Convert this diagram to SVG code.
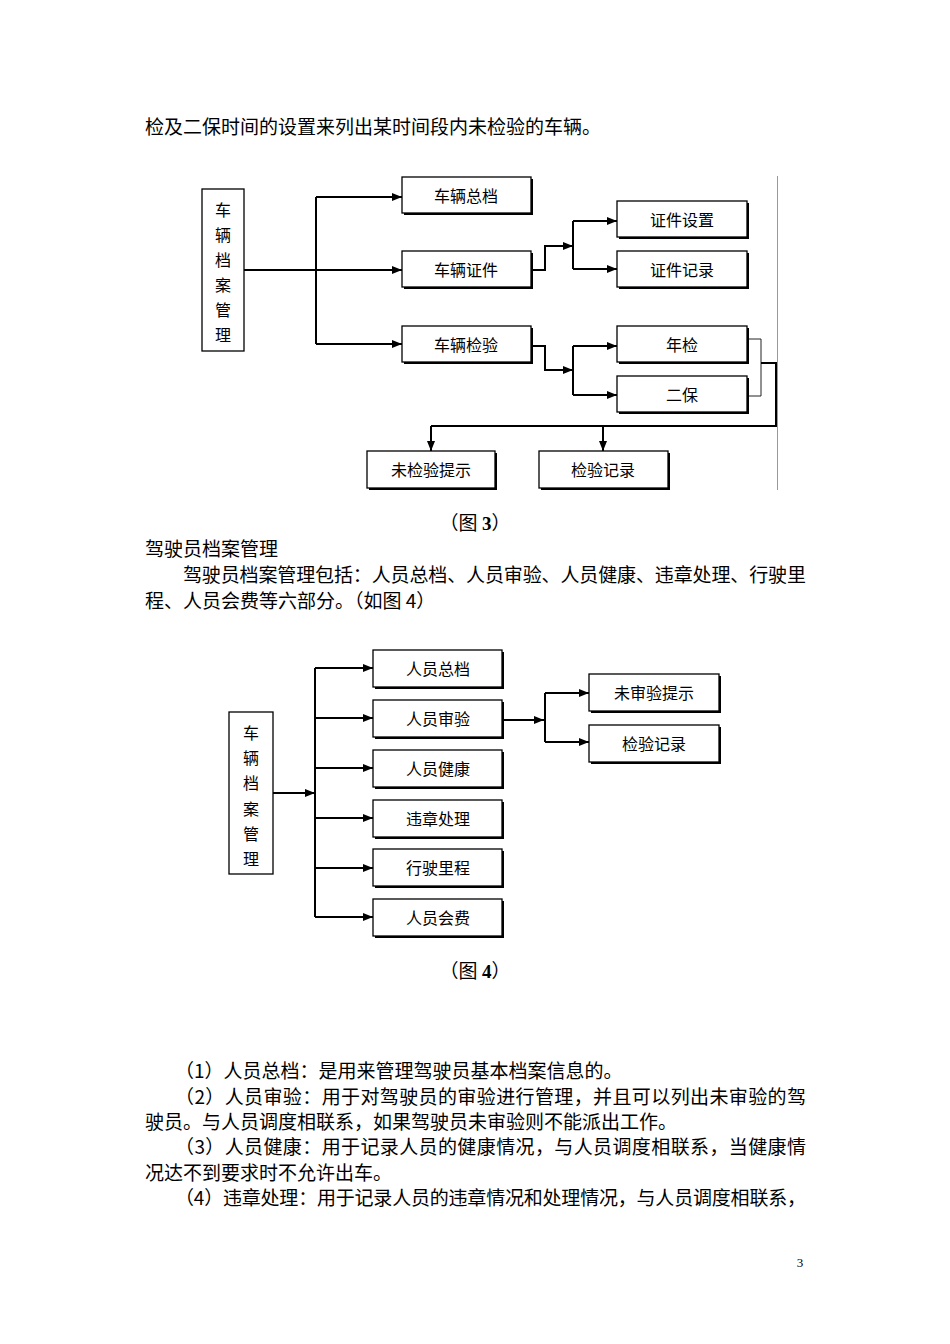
<svg xmlns="http://www.w3.org/2000/svg" width="950" height="1344" viewBox="0 0 950 1344">
<style>
.t{font-family:"Noto Sans CJK SC","Liberation Serif",serif;font-size:19px;fill:#000}
.l{font-family:"Noto Sans CJK SC","Liberation Sans",sans-serif;font-size:16px;fill:#000;text-anchor:middle;dominant-baseline:central}
.c{fill:none;stroke:#000;stroke-width:2}
.thin{fill:none;stroke:#222;stroke-width:1}
.bx{fill:#fff;stroke:#000;stroke-width:1.3}
.sh{fill:#000}
</style>
<defs>
<marker id="a" viewBox="0 0 10 8" refX="10" refY="4" markerWidth="10" markerHeight="8" markerUnits="userSpaceOnUse" orient="auto"><path d="M0,0 L10,4 L0,8 Z" fill="#000"/></marker>
</defs>
<rect width="950" height="1344" fill="#fff"/>

<text class="t" x="145" y="134">检及二保时间的设置来列出某时间段内未检验的车辆。</text>

<!-- Figure 3 -->
<line x1="777.5" y1="176" x2="777.5" y2="490" stroke="#999" stroke-width="1"/>
<g id="connectors3">
<path class="c" d="M244,270 H402" marker-end="url(#a)"/>
<path class="c" d="M316,197 V344"/>
<path class="c" d="M316,197 H402" marker-end="url(#a)"/>
<path class="c" d="M316,344 H402" marker-end="url(#a)"/>
<path class="c" d="M531,270 H545 V246 H573" marker-end="url(#a)"/>
<path class="c" d="M573,221 V269"/>
<path class="c" d="M573,221 H617" marker-end="url(#a)"/>
<path class="c" d="M573,269 H617" marker-end="url(#a)"/>
<path class="c" d="M531,346 H545 V370 H573" marker-end="url(#a)"/>
<path class="c" d="M573,346 V395"/>
<path class="c" d="M573,346 H617" marker-end="url(#a)"/>
<path class="c" d="M573,395 H617" marker-end="url(#a)"/>
<path class="thin" d="M748,339 H761 V396 H748"/>
<path class="c" d="M761,363 H776 V426 H431"/>
<path class="c" d="M431,426 V451" marker-end="url(#a)"/>
<path class="c" d="M603,426 V451" marker-end="url(#a)"/>
</g>
<g id="n3-root"><rect class="bx" x="202" y="189" width="42" height="162"/>
<text class="l" x="223" y="209">车</text><text class="l" x="223" y="234">辆</text><text class="l" x="223" y="259">档</text><text class="l" x="223" y="284">案</text><text class="l" x="223" y="309">管</text><text class="l" x="223" y="334">理</text></g>
<g id="n3-zongdang"><rect class="sh" x="404" y="179" width="129" height="36"/><rect class="bx" x="402" y="177" width="129" height="36"/><text class="l" x="466" y="195">车辆总档</text></g>
<g id="n3-zhengjian"><rect class="sh" x="404" y="253" width="129" height="36"/><rect class="bx" x="402" y="251" width="129" height="36"/><text class="l" x="466" y="269">车辆证件</text></g>
<g id="n3-jianyan"><rect class="sh" x="404" y="328" width="129" height="36"/><rect class="bx" x="402" y="326" width="129" height="36"/><text class="l" x="466" y="344">车辆检验</text></g>
<g id="n3-shezhi"><rect class="sh" x="619" y="203" width="130" height="36"/><rect class="bx" x="617" y="201" width="130" height="36"/><text class="l" x="682" y="219">证件设置</text></g>
<g id="n3-jilu"><rect class="sh" x="619" y="253" width="130" height="36"/><rect class="bx" x="617" y="251" width="130" height="36"/><text class="l" x="682" y="269">证件记录</text></g>
<g id="n3-nianjian"><rect class="sh" x="619" y="328" width="130" height="36"/><rect class="bx" x="617" y="326" width="130" height="36"/><text class="l" x="682" y="344">年检</text></g>
<g id="n3-erbao"><rect class="sh" x="619" y="378" width="130" height="36"/><rect class="bx" x="617" y="376" width="130" height="36"/><text class="l" x="682" y="394">二保</text></g>
<g id="n3-weijian"><rect class="sh" x="369" y="453" width="128" height="37"/><rect class="bx" x="367" y="451" width="128" height="37"/><text class="l" x="431" y="469">未检验提示</text></g>
<g id="n3-jyjilu"><rect class="sh" x="541" y="453" width="129" height="37"/><rect class="bx" x="539" y="451" width="129" height="37"/><text class="l" x="603" y="469">检验记录</text></g>

<text class="t" x="475" y="530" text-anchor="middle">（图 <tspan font-family="Liberation Serif" font-weight="bold">3</tspan>）</text>
<text class="t" x="145" y="556">驾驶员档案管理</text>
<text class="t" x="183" y="582" textLength="623" lengthAdjust="spacing">驾驶员档案管理包括：人员总档、人员审验、人员健康、违章处理、行驶里</text>
<text class="t" x="145" y="608">程、人员会费等六部分。（如图 4）</text>

<!-- Figure 4 -->
<g id="connectors4">
<path class="c" d="M273,793 H315" marker-end="url(#a)"/>
<path class="c" d="M315,668 V917"/>
<path class="c" d="M315,668 H373" marker-end="url(#a)"/>
<path class="c" d="M315,718 H373" marker-end="url(#a)"/>
<path class="c" d="M315,768 H373" marker-end="url(#a)"/>
<path class="c" d="M315,818 H373" marker-end="url(#a)"/>
<path class="c" d="M315,868 H373" marker-end="url(#a)"/>
<path class="c" d="M315,917 H373" marker-end="url(#a)"/>
<path class="c" d="M502,720 H544" marker-end="url(#a)"/>
<path class="c" d="M545,693 V742"/>
<path class="c" d="M545,693 H589" marker-end="url(#a)"/>
<path class="c" d="M545,742 H589" marker-end="url(#a)"/>
</g>
<g id="n4-root"><rect class="bx" x="229" y="712" width="44" height="162"/>
<text class="l" x="251" y="732">车</text><text class="l" x="251" y="757">辆</text><text class="l" x="251" y="782">档</text><text class="l" x="251" y="808">案</text><text class="l" x="251" y="833">管</text><text class="l" x="251" y="858">理</text></g>
<g id="n4-zongdang"><rect class="sh" x="375" y="652" width="129" height="37"/><rect class="bx" x="373" y="650" width="129" height="37"/><text class="l" x="438" y="668">人员总档</text></g>
<g id="n4-shenyan"><rect class="sh" x="375" y="702" width="129" height="37"/><rect class="bx" x="373" y="700" width="129" height="37"/><text class="l" x="438" y="718">人员审验</text></g>
<g id="n4-jiankang"><rect class="sh" x="375" y="752" width="129" height="37"/><rect class="bx" x="373" y="750" width="129" height="37"/><text class="l" x="438" y="768">人员健康</text></g>
<g id="n4-weizhang"><rect class="sh" x="375" y="802" width="129" height="37"/><rect class="bx" x="373" y="800" width="129" height="37"/><text class="l" x="438" y="818">违章处理</text></g>
<g id="n4-licheng"><rect class="sh" x="375" y="851" width="129" height="37"/><rect class="bx" x="373" y="849" width="129" height="37"/><text class="l" x="438" y="867">行驶里程</text></g>
<g id="n4-huifei"><rect class="sh" x="375" y="901" width="129" height="37"/><rect class="bx" x="373" y="899" width="129" height="37"/><text class="l" x="438" y="917">人员会费</text></g>
<g id="n4-weishen"><rect class="sh" x="591" y="676" width="130" height="37"/><rect class="bx" x="589" y="674" width="130" height="37"/><text class="l" x="654" y="692">未审验提示</text></g>
<g id="n4-jilu"><rect class="sh" x="591" y="727" width="130" height="37"/><rect class="bx" x="589" y="725" width="130" height="37"/><text class="l" x="654" y="743">检验记录</text></g>

<text class="t" x="475" y="978" text-anchor="middle">（图 <tspan font-family="Liberation Serif" font-weight="bold">4</tspan>）</text>

<text class="t" x="175" y="1078">（1）人员总档：是用来管理驾驶员基本档案信息的。</text>
<text class="t" x="175" y="1104" textLength="631" lengthAdjust="spacing">（2）人员审验：用于对驾驶员的审验进行管理，并且可以列出未审验的驾</text>
<text class="t" x="145" y="1129">驶员。与人员调度相联系，如果驾驶员未审验则不能派出工作。</text>
<text class="t" x="175" y="1154" textLength="631" lengthAdjust="spacing">（3）人员健康：用于记录人员的健康情况，与人员调度相联系，当健康情</text>
<text class="t" x="145" y="1180">况达不到要求时不允许出车。</text>
<text class="t" x="175" y="1205" textLength="631" lengthAdjust="spacing">（4）违章处理：用于记录人员的违章情况和处理情况，与人员调度相联系，</text>
<text x="800" y="1267" font-family="Liberation Serif" font-size="13" text-anchor="middle">3</text>
</svg>
